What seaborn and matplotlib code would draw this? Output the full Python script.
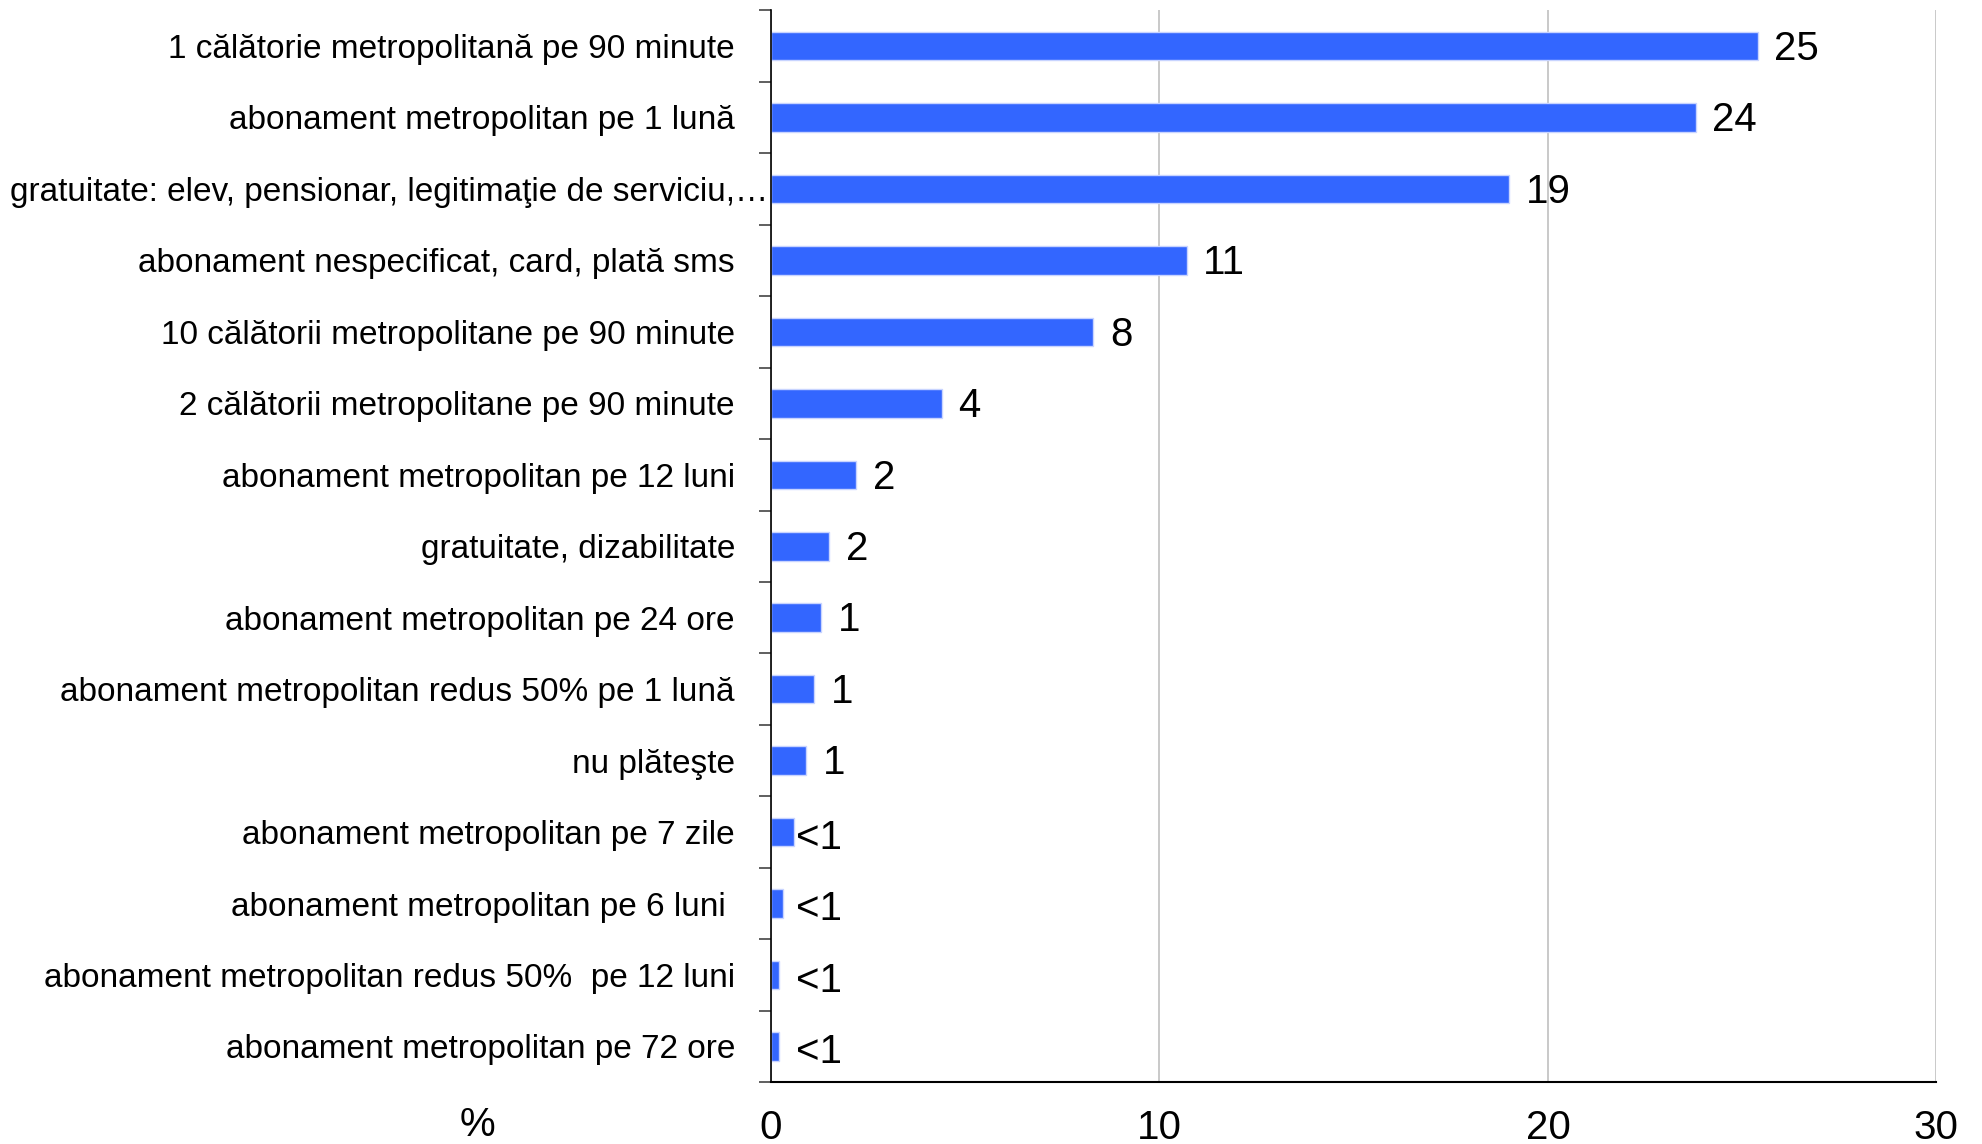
import matplotlib
matplotlib.use("Agg")
import matplotlib.pyplot as plt
import matplotlib.transforms as mtransforms
import seaborn as sns
import pandas as pd
import numpy as np

categories = [
    "1 călătorie metropolitană pe 90 minute",
    "abonament metropolitan pe 1 lună",
    "gratuitate: elev, pensionar, legitimaţie de serviciu,…",
    "abonament nespecificat, card, plată sms",
    "10 călătorii metropolitane pe 90 minute",
    "2 călătorii metropolitane pe 90 minute",
    "abonament metropolitan pe 12 luni",
    "gratuitate, dizabilitate",
    "abonament metropolitan pe 24 ore",
    "abonament metropolitan redus 50% pe 1 lună",
    "nu plăteşte",
    "abonament metropolitan pe 7 zile",
    "abonament metropolitan pe 6 luni ",
    "abonament metropolitan redus 50%  pe 12 luni",
    "abonament metropolitan pe 72 ore",
]
values = [25.4, 23.8, 19.0, 10.7, 8.3, 4.4, 2.2, 1.5, 1.3, 1.1, 0.9, 0.6, 0.3, 0.2, 0.2]
value_labels = ["25", "24", "19", "11", "8", "4", "2", "2", "1", "1", "1", "<1", "<1", "<1", "<1"]
x_ticks = [0, 10, 20, 30]

df = pd.DataFrame({"cat": categories, "val": values})

sns.set_theme(style="white")
plt.rcParams["font.family"] = ["Liberation Sans", "DejaVu Sans"]
lab_fs = 24
num_fs = 29

fig = plt.figure(figsize=(19.82, 11.44), dpi=100)
ax = fig.add_axes([0.389, 0.054, 0.588, 0.937])

sns.barplot(data=df, x="val", y="cat", orient="h", color="#3366FF", saturation=1,
            width=0.4, edgecolor="#c8d4ff", linewidth=1.0, ax=ax)

ax.set_xlim(0, 30)
ax.set_ylim(len(categories) - 0.5, -0.5)
ax.set_xticks(x_ticks)
ax.set_xticklabels([str(t) for t in x_ticks], fontsize=num_fs)
ax.tick_params(axis="x", length=0, pad=19, colors="black")
ax.tick_params(axis="y", which="major", left=False, length=0, pad=26, labelsize=lab_fs, colors="black")
ax.set_yticks(np.arange(-0.5, len(categories) + 0.5, 1), minor=True)
ax.tick_params(axis="y", which="minor", left=True, length=9, width=1.2, color="#444444")
ax.set_xlabel("")
ax.set_ylabel("")

# the long truncated label sits further right in the original
for t in ax.get_yticklabels():
    if t.get_text().startswith("gratuitate: elev"):
        t.set_transform(t.get_transform() + mtransforms.ScaledTranslation(0.33, 0, fig.dpi_scale_trans))

ax.grid(axis="x", color="#c0c0c0", linewidth=1.2)
ax.grid(axis="y", visible=False)
ax.set_axisbelow(True)
for s in ["top", "right"]:
    ax.spines[s].set_visible(False)
ax.spines["left"].set_color("black")
ax.spines["left"].set_linewidth(1.2)
ax.spines["bottom"].set_color("black")
ax.spines["bottom"].set_linewidth(1.5)

for i, (v, lab) in enumerate(zip(values, value_labels)):
    if lab.startswith("<"):
        ax.annotate(lab, xy=(max(v, 0.6), i), xytext=(1, -4), textcoords="offset points",
                    ha="left", va="center", fontsize=num_fs, color="black")
    else:
        ax.annotate(lab, xy=(v, i), xytext=(12, -2), textcoords="offset points",
                    ha="left", va="center", fontsize=num_fs, color="black")

fig.text(0.241, 0.017, "%", fontsize=num_fs, ha="center", va="center", color="black")

fig.savefig("out.png", dpi=100)
